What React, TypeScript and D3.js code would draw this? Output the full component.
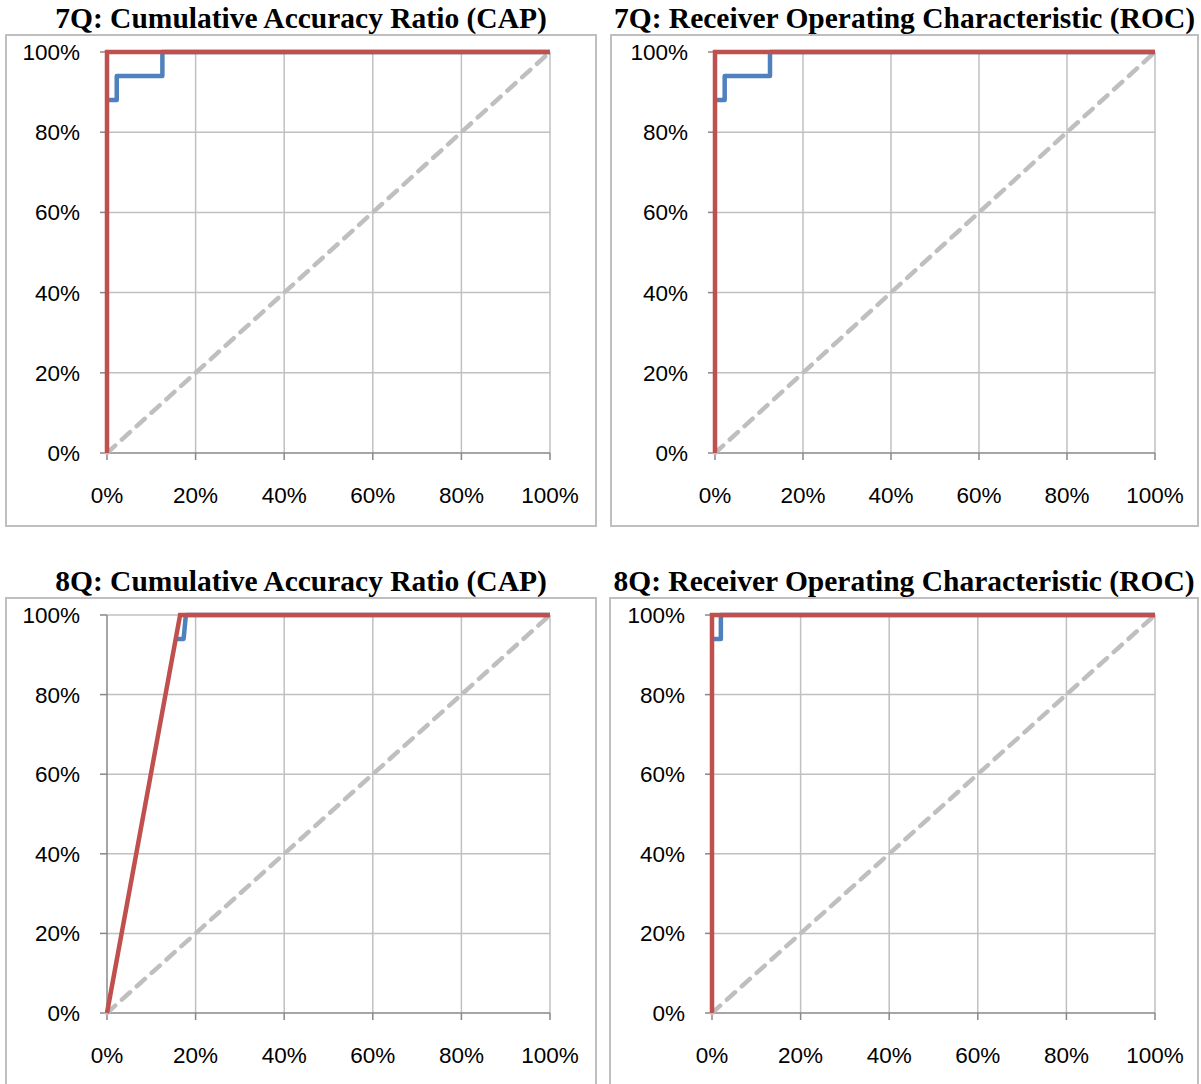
import React from "react";
import * as d3 from "d3";

type Pt = [number, number];

// ---- data ----
const xTicks = [0, 0.2, 0.4, 0.6, 0.8, 1];
const yTicks = [0, 0.2, 0.4, 0.6, 0.8, 1];
const randomLine: Pt[] = [[0, 0], [1, 1]];

const cap7Model: Pt[] = [[0.004, 0.88], [0.022, 0.88], [0.022, 0.94], [0.125, 0.94], [0.125, 1], [1, 1]];
const cap7Perfect: Pt[] = [[0, 0], [0, 1], [1, 1]];
const roc7Model: Pt[] = [[0.004, 0.88], [0.022, 0.88], [0.022, 0.94], [0.125, 0.94], [0.125, 1], [1, 1]];
const roc7Perfect: Pt[] = [[0, 0], [0, 1], [1, 1]];
const cap8Model: Pt[] = [[0.158, 0.94], [0.173, 0.94], [0.178, 1], [1, 1]];
const cap8Perfect: Pt[] = [[0, 0], [0.165, 1], [1, 1]];
const roc8Model: Pt[] = [[0.004, 0.94], [0.02, 0.94], [0.02, 1], [1, 1]];
const roc8Perfect: Pt[] = [[0, 0], [0, 1], [1, 1]];

const titles = [
  "7Q: Cumulative Accuracy Ratio (CAP)",
  "7Q: Receiver Operating Characteristic (ROC)",
  "8Q: Cumulative Accuracy Ratio (CAP)",
  "8Q: Receiver Operating Characteristic (ROC)",
];

// ---- layout ----
const panels = [
  { title: titles[0], model: cap7Model, perfect: cap7Perfect, box: [6, 35, 590, 491], plot: [107, 52, 550, 453], titleY: 28 },
  { title: titles[1], model: roc7Model, perfect: roc7Perfect, box: [611, 35, 587, 491], plot: [715, 52, 1155, 453], titleY: 28 },
  { title: titles[2], model: cap8Model, perfect: cap8Perfect, box: [6, 598, 590, 520], plot: [107, 615, 550, 1013], titleY: 591 },
  { title: titles[3], model: roc8Model, perfect: roc8Perfect, box: [610, 598, 588, 520], plot: [712, 615, 1155, 1013], titleY: 591 },
];

const fmt = d3.format(".0%");
const tickFont = "'Liberation Sans', Arial, sans-serif";

function Panel({ p }: { p: (typeof panels)[number] }) {
  const [l, t, r, b] = p.plot;
  const x = d3.scaleLinear().domain([0, 1]).range([l, r]);
  const y = d3.scaleLinear().domain([0, 1]).range([b, t]);
  const line = d3
    .line<Pt>()
    .x((d) => x(d[0]))
    .y((d) => y(d[1]));
  const [bx, by, bw, bh] = p.box;
  return (
    <g>
      <rect x={bx} y={by} width={bw} height={bh} fill="#fff" stroke="#bfbfbf" strokeWidth={2} />
      <text
        x={bx + bw / 2}
        y={p.titleY}
        textAnchor="middle"
        fontFamily="'Liberation Serif', 'Times New Roman', serif"
        fontWeight="bold"
        fontSize={29.5}
        fill="#000"
      >
        {p.title}
      </text>
      {/* gridlines */}
      {xTicks.slice(1).map((v) => (
        <line key={"gx" + v} x1={x(v)} x2={x(v)} y1={y(0)} y2={y(1)} stroke="#c0c0c0" strokeWidth={1.5} />
      ))}
      {yTicks.slice(1).map((v) => (
        <line key={"gy" + v} x1={x(0)} x2={x(1)} y1={y(v)} y2={y(v)} stroke="#c0c0c0" strokeWidth={1.5} />
      ))}
      {/* axes */}
      <line x1={x(0)} x2={x(1)} y1={y(0)} y2={y(0)} stroke="#888" strokeWidth={1.5} />
      <line x1={x(0)} x2={x(0)} y1={y(0)} y2={y(1)} stroke="#888" strokeWidth={1.5} />
      {xTicks.map((v) => (
        <g key={"xt" + v}>
          <line x1={x(v)} x2={x(v)} y1={y(0)} y2={y(0) + 7} stroke="#888" strokeWidth={1.5} />
          <text x={x(v)} y={y(0) + 50} textAnchor="middle" fontFamily={tickFont} fontSize={22.5} fill="#000">
            {fmt(v)}
          </text>
        </g>
      ))}
      {yTicks.map((v) => (
        <g key={"yt" + v}>
          <line x1={x(0) - 7} x2={x(0)} y1={y(v)} y2={y(v)} stroke="#888" strokeWidth={1.5} />
          <text x={x(0) - 27} y={y(v) + 8} textAnchor="end" fontFamily={tickFont} fontSize={22.5} fill="#000">
            {fmt(v)}
          </text>
        </g>
      ))}
      {/* series */}
      <path
        d={line(randomLine) || ""}
        fill="none"
        stroke="#bfbfbf"
        strokeWidth={4.5}
        strokeDasharray="11 9"
        strokeLinecap="round"
      />
      <path d={line(p.model) || ""} fill="none" stroke="#4f81bd" strokeWidth={4.5} strokeLinejoin="round" strokeLinecap="butt" />
      <path d={line(p.perfect) || ""} fill="none" stroke="#c0504d" strokeWidth={4.5} strokeLinejoin="miter" />
    </g>
  );
}

export default function App() {
  return (
    <svg width={1201} height={1084} style={{ position: "absolute", left: 0, top: 0, background: "#fff" }}>
      <rect x={0} y={0} width={1201} height={1084} fill="#fff" />
      {panels.map((p, i) => (
        <Panel key={i} p={p} />
      ))}
    </svg>
  );
}
